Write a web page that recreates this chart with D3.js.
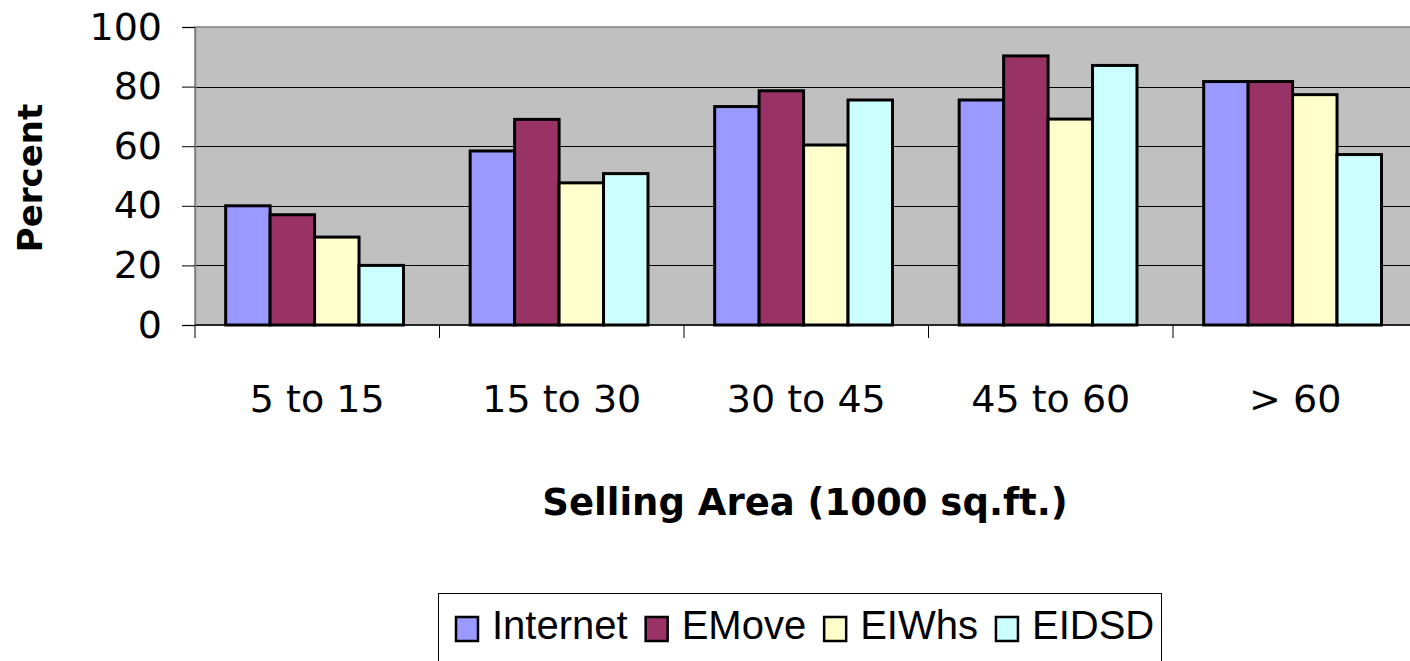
<!DOCTYPE html>
<html>
<head>
<meta charset="utf-8">
<script src="https://cdn.jsdelivr.net/npm/d3@7"></script>
<style>
  html, body { margin: 0; padding: 0; background: #ffffff; overflow: hidden; }
  svg { display: block; }
</style>
</head>
<body>
<svg id="chart" width="1410" height="661"></svg>
<script>
const categories = ["5 to 15", "15 to 30", "30 to 45", "45 to 60", "> 60"];
const seriesNames = ["Internet", "EMove", "EIWhs", "EIDSD"];
const internetValues = [40, 58.4, 73.3, 75.5, 81.7];
const emoveValues = [37, 69, 78.6, 90.3, 81.7];
const eiwhsValues = [29.5, 47.7, 60.4, 69.1, 77.3];
const eidsdValues = [20, 50.8, 75.5, 87.1, 57.2];
const yTicks = [0, 20, 40, 60, 80, 100];
const seriesColors = ["#9999FF", "#993366", "#FFFFCC", "#CCFFFF"];

const seriesValues = [internetValues, emoveValues, eiwhsValues, eidsdValues];

const svg = d3.select("#chart");
const plotLeft = 195, plotTop = 27, plotBottom = 325;
const catStep = 244.5;
const plotRight = plotLeft + catStep * categories.length;

const x0 = d3.scaleBand().domain(categories).range([plotLeft, plotRight]).paddingInner(0).paddingOuter(0);
const x1 = d3.scaleBand().domain(seriesNames).range([0, x0.bandwidth()]).paddingInner(0).paddingOuter(0.75).align(0.46);
const y = d3.scaleLinear().domain([0, 100]).range([plotBottom, plotTop]);

// plot area
svg.append("rect")
  .attr("x", plotLeft).attr("y", plotTop)
  .attr("width", plotRight - plotLeft).attr("height", plotBottom - plotTop)
  .attr("fill", "#C0C0C0").attr("stroke", "#808080").attr("stroke-width", 1.5);

// gridlines
svg.append("g").selectAll("line")
  .data(yTicks.filter(t => t > 0 && t < 100))
  .join("line")
  .attr("x1", plotLeft).attr("x2", plotRight)
  .attr("y1", d => Math.round(y(d)) + 0.5).attr("y2", d => Math.round(y(d)) + 0.5)
  .attr("stroke", "#000").attr("stroke-width", 1);

// bars
const groups = svg.append("g").selectAll("g")
  .data(categories)
  .join("g")
  .attr("transform", d => `translate(${x0(d)},0)`);

groups.selectAll("rect")
  .data((c, ci) => seriesNames.map((s, si) => ({ s, si, v: seriesValues[si][ci] })))
  .join("rect")
  .attr("x", d => x1(d.s))
  .attr("y", d => y(d.v))
  .attr("width", x1.bandwidth())
  .attr("height", d => y(0) - y(d.v))
  .attr("fill", d => seriesColors[d.si])
  .attr("stroke", "#000")
  .attr("stroke-width", 3);

// y axis
const yAxis = d3.axisLeft(y).tickValues(yTicks).tickSize(13).tickPadding(20).tickFormat(d3.format("d"));
const gy = svg.append("g").attr("transform", `translate(${plotLeft},0)`).call(yAxis);
gy.select(".domain").attr("stroke", "#808080").attr("stroke-width", 1.5);
gy.selectAll(".tick line").attr("stroke", "#000").attr("stroke-width", 1);
gy.selectAll(".tick text")
  .attr("font-family", "DejaVu Sans, sans-serif")
  .attr("font-size", 38)
  .attr("fill", "#000");

// x axis
const gx = svg.append("g").attr("transform", `translate(0,${plotBottom})`);
gx.append("line").attr("x1", plotLeft).attr("x2", plotRight).attr("y1", 0).attr("y2", 0)
  .attr("stroke", "#000").attr("stroke-width", 1.5);
gx.selectAll("line.tk")
  .data(categories.concat(["__end"]))
  .join("line")
  .attr("class", "tk")
  .attr("x1", (d, i) => plotLeft + i * x0.step())
  .attr("x2", (d, i) => plotLeft + i * x0.step())
  .attr("y1", 0).attr("y2", 13)
  .attr("stroke", "#000").attr("stroke-width", 1);
gx.selectAll("text")
  .data(categories)
  .join("text")
  .attr("x", d => x0(d) + x0.bandwidth() / 2)
  .attr("y", 87)
  .attr("text-anchor", "middle")
  .attr("font-family", "DejaVu Sans, sans-serif")
  .attr("font-size", 38)
  .attr("fill", "#000")
  .text(d => d);

// axis titles
svg.append("text")
  .attr("transform", `translate(42,178) rotate(-90)`)
  .attr("text-anchor", "middle")
  .attr("font-family", "DejaVu Sans, sans-serif")
  .attr("font-weight", "bold")
  .attr("font-size", 34)
  .attr("fill", "#000")
  .text("Percent");

svg.append("text")
  .attr("x", 805).attr("y", 515)
  .attr("text-anchor", "middle")
  .attr("font-family", "DejaVu Sans, sans-serif")
  .attr("font-weight", "bold")
  .attr("font-size", 37)
  .attr("fill", "#000")
  .text("Selling Area (1000 sq.ft.)");

// legend
const legendG = svg.append("g");
legendG.append("rect")
  .attr("x", 438.5).attr("y", 593.5).attr("width", 723).attr("height", 90)
  .attr("fill", "#fff").attr("stroke", "#000").attr("stroke-width", 1);
let lx = 456;
seriesNames.forEach((s, i) => {
  legendG.append("rect")
    .attr("x", lx).attr("y", 617).attr("width", 22).attr("height", 24)
    .attr("fill", seriesColors[i]).attr("stroke", "#000").attr("stroke-width", 2.5);
  const t = legendG.append("text")
    .attr("x", lx + 36).attr("y", 639)
    .attr("font-family", "Liberation Sans, Arial, sans-serif")
    .attr("font-size", 40)
    .attr("fill", "#000")
    .text(s);
  lx = lx + 36 + t.node().getComputedTextLength() + 18;
});
</script>
</body>
</html>
